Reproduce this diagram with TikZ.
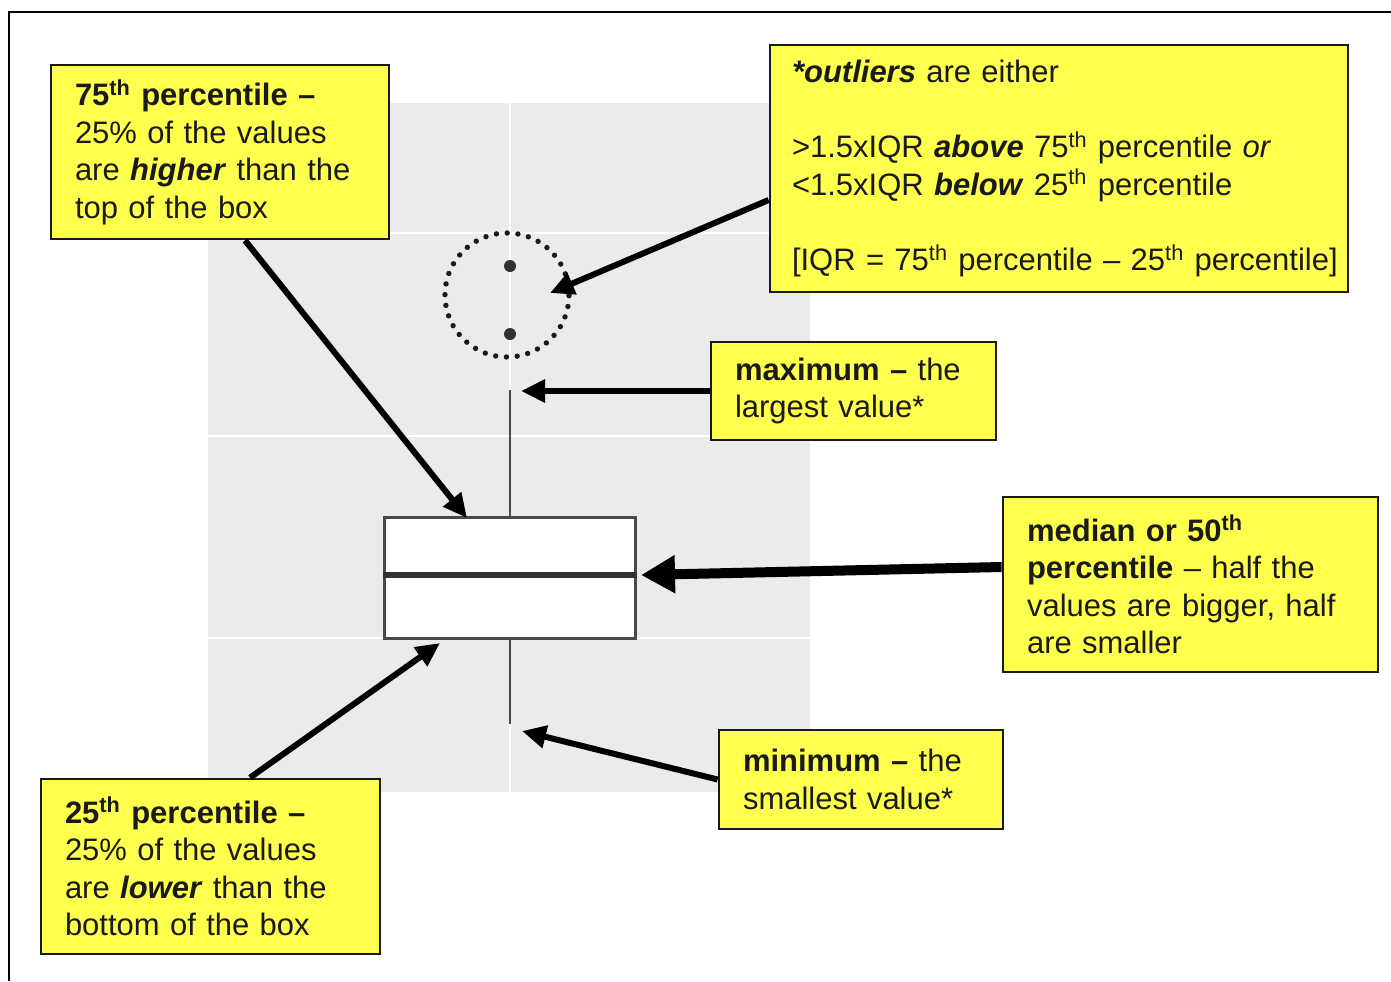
\documentclass[tikz,border=0pt]{standalone}
\usepackage{fontspec}
\setmainfont{Liberation Sans}[WordSpace=0.82]
\usetikzlibrary{arrows.meta}
\definecolor{note}{HTML}{FFFF4D}
\definecolor{panel}{HTML}{EBEBEB}
\definecolor{ink}{HTML}{1A1A1A}
\definecolor{boxline}{HTML}{4A4A4A}
\tikzset{
  notebox/.style={draw=ink, line width=1.4pt, fill=note, text=ink, align=left,
    inner xsep=12pt, inner ysep=0pt, anchor=center,
    font=\fontsize{15.5}{18.8}\selectfont},
  pointer/.style={draw=black, line width=3pt, -{Triangle[length=12pt,width=11pt]}},
  bigpointer/.style={draw=black, line width=5pt, -{Triangle[length=17pt,width=18pt]}},
  grid/.style={draw=white, line width=1pt},
  whisker/.style={draw=boxline, line width=1.1pt},
}
\begin{document}
\begin{tikzpicture}[x=0.5pt,y=-0.5pt]
\useasboundingbox (0,0) rectangle (1391,981);
% outer frame (top and left)
\draw[line width=1pt] (1391,12) -- (9,12) -- (9,981);
% panel
\fill[panel] (208,103) rectangle (810,792);
\draw[grid] (510,103) -- (510,792);
\foreach \yy in {233,436,638} \draw[grid] (208,\yy) -- (810,\yy);
% whiskers
\draw[whisker] (510,390) -- (510,517);
\draw[whisker] (510,638) -- (510,724);
% box
\node[draw=boxline, line width=1.5pt, fill=white, minimum width=125.5pt, minimum height=60.5pt, inner sep=0pt] (iqr) at (509.5,577.5) {};
\draw[draw=ink!90, line width=2.6pt] (iqr.west |- 0,575) -- (iqr.east |- 0,575);
% outliers
\fill[ink!90] (510,266) circle[radius=3pt];
\fill[ink!90] (510,334) circle[radius=3pt];
\node[circle, draw=ink, line width=2.7pt, dash pattern=on 0pt off 5.4pt, line cap=round, minimum size=62pt, inner sep=0pt] (ring) at (507,295) {};
% targets
\coordinate (t75) at (467,518);
\coordinate (t25) at (440,643);
\coordinate (tout) at (550,293);
\coordinate (tmax) at (521,391);
\coordinate (tmed) at (641,575);
\coordinate (tmin) at (522,731);
% notes
\node[notebox, text width=145pt, minimum height=87pt] (q75) at (220,152)
 {\textbf{75\textsuperscript{th} percentile –}\\
  25\% of the values\\
  are \textbf{\textit{higher}} than the\\
  top of the box};
\node[notebox, text width=145.5pt, minimum height=87.5pt] (q25) at (210.5,866.5)
 {\textbf{25\textsuperscript{th} percentile –}\\
  25\% of the values\\
  are \textbf{\textit{lower}} than the\\
  bottom of the box};
\node[notebox, text width=267pt, minimum height=123.5pt, inner xsep=11pt] (outl) at (1059,168.5)
 {\textbf{\textit{*outliers}} are either\\[18.8pt]
  \mbox{>1.5xIQR \textbf{\textit{above}} 75\textsuperscript{th} percentile \textit{or}}\\
  \mbox{<1.5xIQR \textbf{\textit{below}} 25\textsuperscript{th} percentile}\\[18.8pt]
  \mbox{[IQR = 75\textsuperscript{th} percentile – 25\textsuperscript{th} percentile]}};
\node[notebox, text width=118.5pt, minimum height=49pt] (max) at (853.5,391)
 {\textbf{maximum –} the\\ largest value*};
\node[notebox, text width=163.5pt, minimum height=87.5pt] (med) at (1190.5,584.5)
 {\textbf{median or 50\textsuperscript{th}}\\
  \textbf{percentile} – half the\\
  \mbox{values are bigger, half}\\
  are smaller};
\node[notebox, text width=118pt, minimum height=49.5pt] (min) at (861,779.5)
 {\textbf{minimum –} the\\ smallest value*};
% pointers
\draw[pointer] ([xshift=12.5pt]q75.south) -- (t75);
\draw[pointer] ([xshift=19.75pt]q25.north) -- (t25);
\draw[pointer] ([yshift=-15.75pt]outl.west) -- (tout);
\draw[pointer] (max.west) -- (tmax);
\draw[bigpointer] ([yshift=8.75pt]med.west) -- (tmed);
\draw[pointer] (min.west) -- (tmin);
\end{tikzpicture}
\end{document}
